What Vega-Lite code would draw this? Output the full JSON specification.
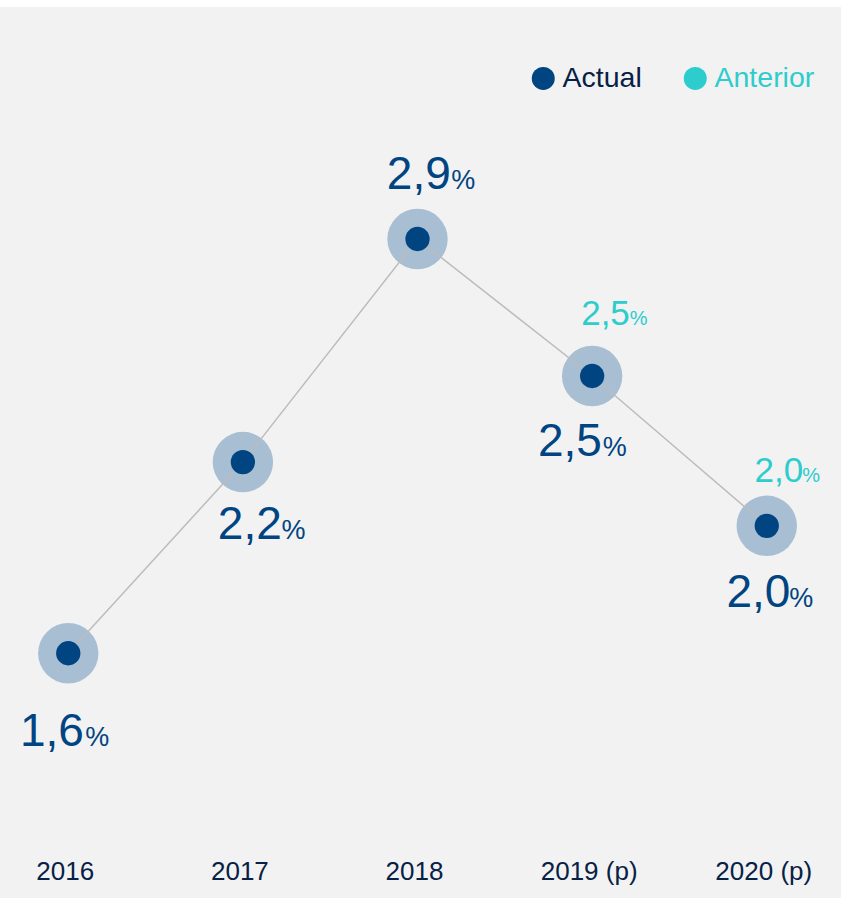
{
  "$schema": "https://vega.github.io/schema/vega-lite/v6.json",
  "width": 841,
  "height": 891,
  "autosize": {"type": "none"},
  "padding": {"top": 7, "left": 0, "right": 0, "bottom": 0},
  "background": "white",
  "config": {
    "font": "Liberation Sans",
    "view": {"fill": "#f2f2f2", "stroke": null},
    "locale": {"number": {"decimal": ",", "thousands": ".", "grouping": [3], "currency": ["", " €"]}}
  },
  "data": {
    "values": [
      {"year": "2016", "actual": 1.6, "anterior": null},
      {"year": "2017", "actual": 2.2, "anterior": null},
      {"year": "2018", "actual": 2.9, "anterior": null},
      {"year": "2019 (p)", "actual": 2.47, "anterior": 2.5},
      {"year": "2020 (p)", "actual": 2.0, "anterior": 2.0}
    ]
  },
  "encoding": {
    "x": {
      "field": "year",
      "type": "ordinal",
      "sort": null,
      "scale": {"type": "point", "padding": 0.408, "align": 0.479},
      "axis": {
        "title": null,
        "domain": false,
        "ticks": false,
        "tickSize": 0,
        "grid": false,
        "labelAngle": 0,
        "labelPadding": 0,
        "labelBaseline": "alphabetic",
        "labelFontSize": 26,
        "labelColor": "#072146",
        "labelOffset": -3.5,
        "labelOverlap": false,
        "offset": -19
      }
    },
    "y": {
      "field": "actual",
      "type": "quantitative",
      "scale": {"domain": [0.832, 3.628], "zero": false, "nice": false},
      "axis": null
    }
  },
  "layer": [
    {"mark": {"type": "circle", "size": 3648, "color": "#a8bed3", "opacity": 1}},
    {"mark": {"type": "line", "color": "#bcbcbc", "strokeWidth": 1.5}},
    {
      "mark": {"type": "circle", "size": 590, "opacity": 1},
      "encoding": {
        "color": {
          "datum": "Actual",
          "type": "nominal",
          "scale": {"domain": ["Actual", "Anterior"], "range": ["#004481", "#2dcccd"]},
          "legend": {
            "orient": "none",
            "legendX": 529,
            "legendY": 57,
            "direction": "horizontal",
            "title": null,
            "symbolType": "circle",
            "symbolSize": 529,
            "symbolStrokeWidth": 0,
            "labelFontSize": 28.5,
            "labelOffset": 5,
            "columnPadding": 39,
            "padding": 0,
            "labelColor": {"expr": "datum.label === 'Anterior' ? '#2dcccd' : '#072146'"}
          }
        }
      }
    },
    {
      "transform": [{"filter": "datum.year === '2016'"}],
      "layer": [
        {"mark": {"type": "text", "align": "right", "baseline": "alphabetic", "fontSize": 46, "color": "#004481", "dx": 15.7, "dy": 92.7}, "encoding": {"text": {"field": "actual", "type": "quantitative", "format": ".1f"}}},
        {"mark": {"type": "text", "align": "left", "baseline": "alphabetic", "fontSize": 27, "color": "#004481", "dx": 17, "dy": 92.7, "text": "%"}}
      ]
    },
    {
      "transform": [{"filter": "datum.year === '2017'"}],
      "layer": [
        {"mark": {"type": "text", "align": "right", "baseline": "alphabetic", "fontSize": 46, "color": "#004481", "dx": 38.9, "dy": 76.6}, "encoding": {"text": {"field": "actual", "type": "quantitative", "format": ".1f"}}},
        {"mark": {"type": "text", "align": "left", "baseline": "alphabetic", "fontSize": 27, "color": "#004481", "dx": 38.5, "dy": 76.6, "text": "%"}}
      ]
    },
    {
      "transform": [{"filter": "datum.year === '2018'"}],
      "layer": [
        {"mark": {"type": "text", "align": "right", "baseline": "alphabetic", "fontSize": 46, "color": "#004481", "dx": 33.3, "dy": -49.7}, "encoding": {"text": {"field": "actual", "type": "quantitative", "format": ".1f"}}},
        {"mark": {"type": "text", "align": "left", "baseline": "alphabetic", "fontSize": 27, "color": "#004481", "dx": 33.7, "dy": -49.7, "text": "%"}}
      ]
    },
    {
      "transform": [{"filter": "datum.year === '2019 (p)'"}],
      "layer": [
        {"mark": {"type": "text", "align": "right", "baseline": "alphabetic", "fontSize": 46, "color": "#004481", "dx": 9.7, "dy": 80}, "encoding": {"text": {"field": "actual", "type": "quantitative", "format": ".1f"}}},
        {"mark": {"type": "text", "align": "left", "baseline": "alphabetic", "fontSize": 27, "color": "#004481", "dx": 10.7, "dy": 80, "text": "%"}},
        {"mark": {"type": "text", "align": "right", "baseline": "alphabetic", "fontSize": 35, "color": "#2dcccd", "dx": 37.7, "dy": -51.4}, "encoding": {"text": {"field": "anterior", "type": "quantitative", "format": ".1f"}}},
        {"mark": {"type": "text", "align": "left", "baseline": "alphabetic", "fontSize": 20, "color": "#2dcccd", "dx": 37.5, "dy": -51.4, "text": "%"}}
      ]
    },
    {
      "transform": [{"filter": "datum.year === '2020 (p)'"}],
      "layer": [
        {"mark": {"type": "text", "align": "right", "baseline": "alphabetic", "fontSize": 46, "color": "#004481", "dx": 23.6, "dy": 81.6}, "encoding": {"text": {"field": "actual", "type": "quantitative", "format": ".1f"}}},
        {"mark": {"type": "text", "align": "left", "baseline": "alphabetic", "fontSize": 27, "color": "#004481", "dx": 22.5, "dy": 81.6, "text": "%"}},
        {"mark": {"type": "text", "align": "right", "baseline": "alphabetic", "fontSize": 35, "color": "#2dcccd", "dx": 36.5, "dy": -44}, "encoding": {"text": {"field": "anterior", "type": "quantitative", "format": ".1f"}}},
        {"mark": {"type": "text", "align": "left", "baseline": "alphabetic", "fontSize": 20, "color": "#2dcccd", "dx": 35.5, "dy": -44, "text": "%"}}
      ]
    }
  ]
}
